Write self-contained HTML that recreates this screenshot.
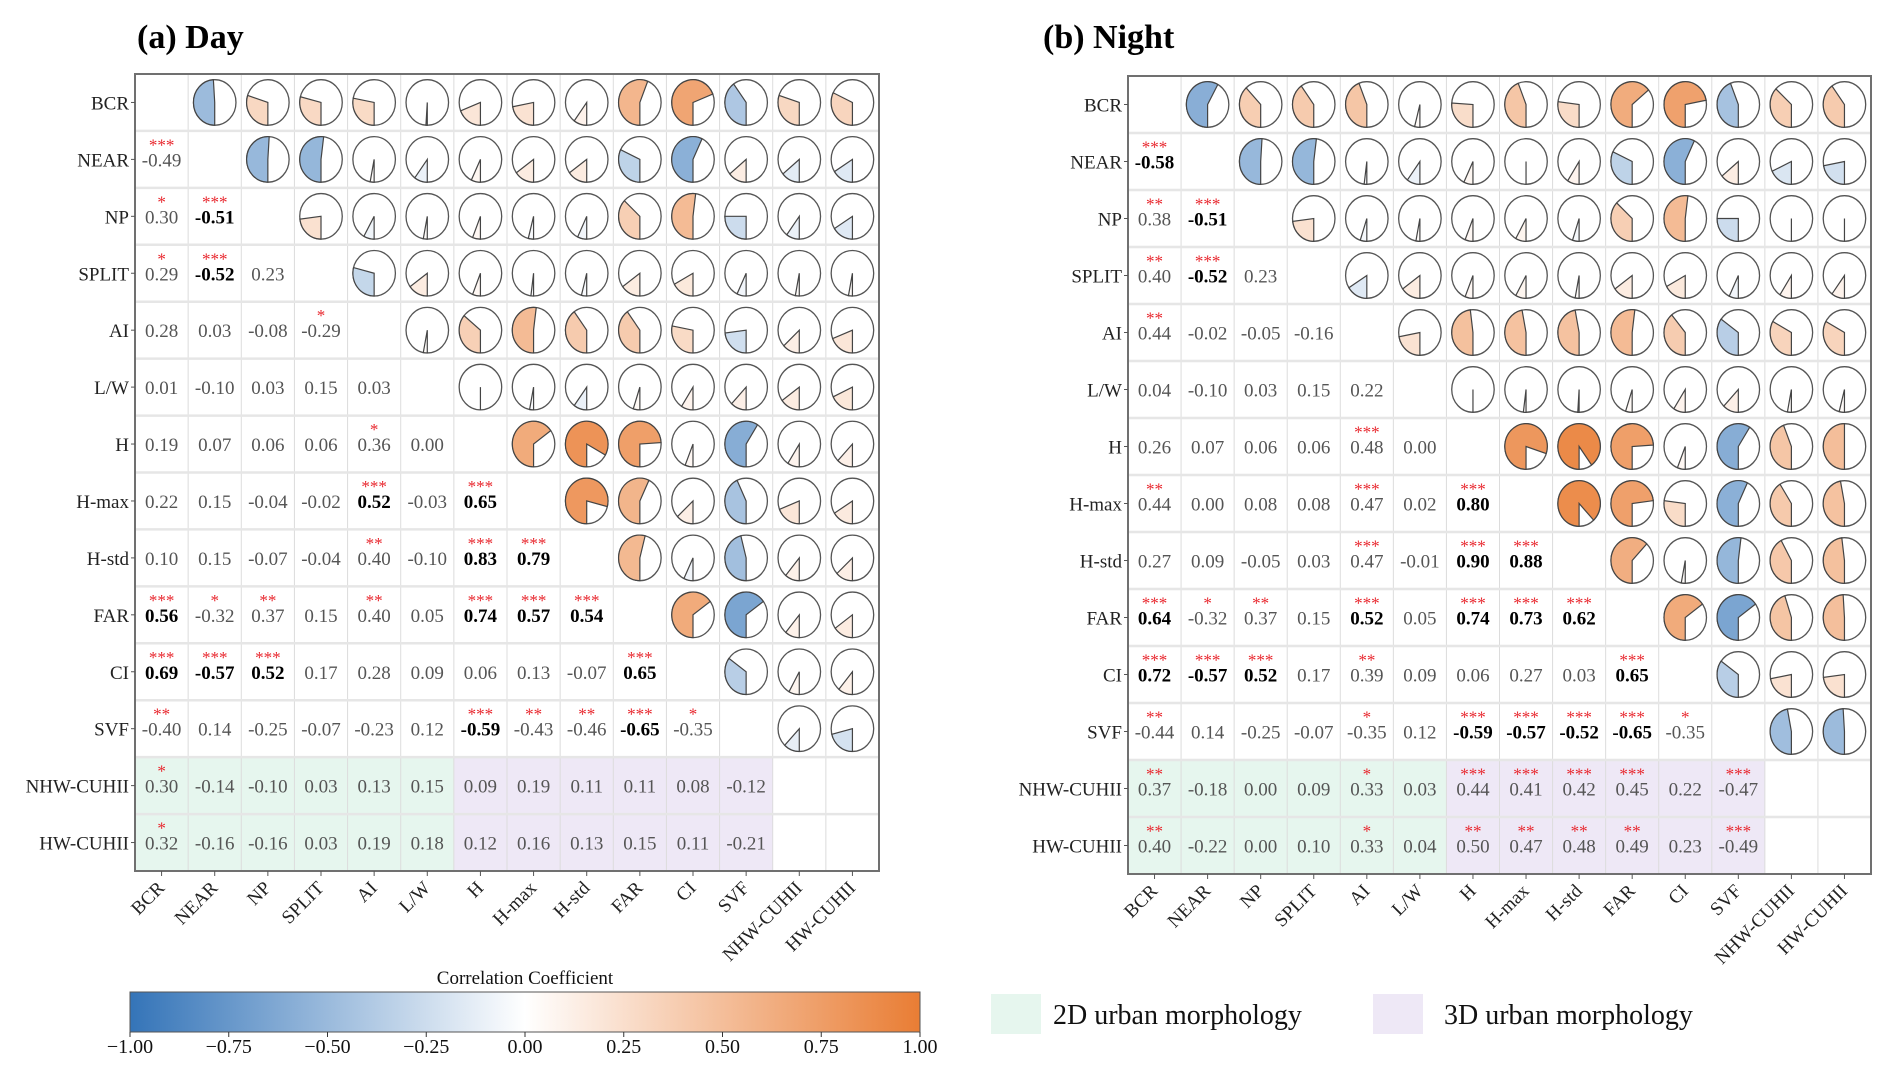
<!DOCTYPE html>
<html><head><meta charset="utf-8"><style>
html,body{margin:0;padding:0;background:#fff;}
svg{display:block;font-family:"Liberation Serif",serif;}
</style></head><body>
<svg id="fig" width="1892" height="1074" viewBox="0 0 1892 1074" xmlns="http://www.w3.org/2000/svg"></svg>
<script>
const labels = ["BCR","NEAR","NP","SPLIT","AI","L/W","H","H-max","H-std","FAR","CI","SVF","NHW-CUHII","HW-CUHII"];
const dayValues = [
 [],
 [-0.49],
 [0.30,-0.51],
 [0.29,-0.52,0.23],
 [0.28,0.03,-0.08,-0.29],
 [0.01,-0.10,0.03,0.15,0.03],
 [0.19,0.07,0.06,0.06,0.36,0.00],
 [0.22,0.15,-0.04,-0.02,0.52,-0.03,0.65],
 [0.10,0.15,-0.07,-0.04,0.40,-0.10,0.83,0.79],
 [0.56,-0.32,0.37,0.15,0.40,0.05,0.74,0.57,0.54],
 [0.69,-0.57,0.52,0.17,0.28,0.09,0.06,0.13,-0.07,0.65],
 [-0.40,0.14,-0.25,-0.07,-0.23,0.12,-0.59,-0.43,-0.46,-0.65,-0.35],
 [0.30,-0.14,-0.10,0.03,0.13,0.15,0.09,0.19,0.11,0.11,0.08,-0.12],
 [0.32,-0.16,-0.16,0.03,0.19,0.18,0.12,0.16,0.13,0.15,0.11,-0.21]
];
const dayStars = [
 [],
 ["***"],
 ["*","***"],
 ["*","***",""],
 ["","","","*"],
 ["","","","",""],
 ["","","","","*",""],
 ["","","","","***","","***"],
 ["","","","","**","","***","***"],
 ["***","*","**","","**","","***","***","***"],
 ["***","***","***","","","","","","","***"],
 ["**","","","","","","***","**","**","***","*"],
 ["*","","","","","","","","","","",""],
 ["*","","","","","","","","","","",""]
];
const nightValues = [
 [],
 [-0.58],
 [0.38,-0.51],
 [0.40,-0.52,0.23],
 [0.44,-0.02,-0.05,-0.16],
 [0.04,-0.10,0.03,0.15,0.22],
 [0.26,0.07,0.06,0.06,0.48,0.00],
 [0.44,0.00,0.08,0.08,0.47,0.02,0.80],
 [0.27,0.09,-0.05,0.03,0.47,-0.01,0.90,0.88],
 [0.64,-0.32,0.37,0.15,0.52,0.05,0.74,0.73,0.62],
 [0.72,-0.57,0.52,0.17,0.39,0.09,0.06,0.27,0.03,0.65],
 [-0.44,0.14,-0.25,-0.07,-0.35,0.12,-0.59,-0.57,-0.52,-0.65,-0.35],
 [0.37,-0.18,0.00,0.09,0.33,0.03,0.44,0.41,0.42,0.45,0.22,-0.47],
 [0.40,-0.22,0.00,0.10,0.33,0.04,0.50,0.47,0.48,0.49,0.23,-0.49]
];
const nightStars = [
 [],
 ["***"],
 ["**","***"],
 ["**","***",""],
 ["**","","",""],
 ["","","","",""],
 ["","","","","***",""],
 ["**","","","","***","","***"],
 ["","","","","***","","***","***"],
 ["***","*","**","","***","","***","***","***"],
 ["***","***","***","","**","","","","","***"],
 ["**","","","","*","","***","***","***","***","*"],
 ["**","","","","*","","***","***","***","***","","***"],
 ["**","","","","*","","**","**","**","**","","***"]
];
const cbTicks = [-1,-0.75,-0.5,-0.25,0,0.25,0.5,0.75,1];

const NS="http://www.w3.org/2000/svg";
const svg=document.getElementById('fig');
function mk(tag,attrs,parent){const e=document.createElementNS(NS,tag);for(const k in attrs)e.setAttribute(k,attrs[k]);(parent||svg).appendChild(e);return e;}
function color(r){
  const t=Math.min(1,Math.abs(r));
  const c=r<0?[52,116,184]:[233,125,52];
  const m=c.map(v=>Math.round(255+(v-255)*t));
  return `rgb(${m[0]},${m[1]},${m[2]})`;
}
function fmt(v){return v.toFixed(2);}

function drawPanel(name,x0,y0,W,H,title,titleX,values,stars){
  const n=labels.length, cw=W/n, ch=H/n;
  const g=mk('g',{});
  
  
  const xs=j=>x0+cw*j, ys=i=>y0+ch*i;
  const t=mk('text',{x:titleX,y:48,'font-size':34,'font-weight':'bold',fill:'#000'},g);
  t.textContent=title;
  
  
  for(let i=12;i<14;i++)for(let j=0;j<12;j++){
    const r=mk('rect',{x:xs(j),y:ys(i),width:cw,height:ch,fill:j<6?'#e6f6ee':'#eee8f6'},g);
    
    
  }
  for(let j=1;j<n;j++) mk('line',{x1:xs(j),x2:xs(j),y1:y0,y2:y0+H,stroke:'#dcdcdc','stroke-width':1},g);
  for(let i=1;i<n;i++) mk('line',{x1:x0,x2:x0+W,y1:ys(i),y2:ys(i),stroke:'#e6e6e6','stroke-width':2.5},g);
  const rx=cw*0.4, ry=ch*0.4;
  for(let i=0;i<n;i++){
    for(let j=0;j<n;j++){
      const cx=xs(j)+cw/2, cy=ys(i)+ch/2;
      if(j<i){
        const v=values[i][j], s=stars[i][j];
        if(v===undefined) continue;
        const hl=i>=12;
        const bold=!hl&&Math.abs(v)>=0.5;
        const tx=mk('text',{x:cx,y:cy+7,'text-anchor':'middle','font-size':19,'font-weight':bold?'bold':'normal',fill:bold?'#000':'#555'},g);
        tx.textContent=fmt(v);
        
        
        if(s){
          const st=mk('text',{x:cx,y:cy-9,'text-anchor':'middle','font-size':17,fill:'#e8242b'},g);
          st.textContent=s;
          
          
        }
      } else if(j>i && i<12){
        const v=values[j][i];
        if(v===undefined) continue;
        const a=Math.abs(v)*2*Math.PI;
        const pg=mk('g',{},g);
        
        
        mk('ellipse',{cx:cx,cy:cy,rx:rx,ry:ry,fill:'#fff',stroke:'#555','stroke-width':1.3},pg);
        const px=cx-rx*Math.sin(a), py=cy+ry*Math.cos(a);
        const large=a>Math.PI?1:0;
        let d;
        if(Math.abs(v)>=0.999) d=`M${cx},${cy+ry} A${rx},${ry} 0 1 1 ${cx},${cy-ry} A${rx},${ry} 0 1 1 ${cx},${cy+ry}Z`;
        else d=`M${cx},${cy} L${cx},${cy+ry} A${rx},${ry} 0 ${large} 1 ${px},${py} Z`;
        mk('path',{d:d,fill:color(v),stroke:'#444','stroke-width':1.2},pg);
      }
    }
  }
  mk('rect',{x:x0,y:y0,width:W,height:H,fill:'none',stroke:'#707070','stroke-width':2},g);
  for(let i=0;i<n;i++){
    const cy=ys(i)+ch/2;
    mk('line',{x1:x0-4,x2:x0,y1:cy,y2:cy,stroke:'#555'},g);
    const l=mk('text',{x:x0-6,y:cy+7,'text-anchor':'end','font-size':19,fill:'#222'},g);
    l.textContent=labels[i];
    
    
    const cx=xs(i)+cw/2;
    mk('line',{x1:cx,x2:cx,y1:y0+H,y2:y0+H+5,stroke:'#555'},g);
    const xl=mk('text',{x:cx+4,y:y0+H+18,'text-anchor':'end','font-size':19,fill:'#222',transform:`rotate(-45 ${cx+4} ${y0+H+18})`},g);
    xl.textContent=labels[i];
    
    
  }
}
drawPanel('day-panel',135,74,744,797,'(a) Day',137,dayValues,dayStars);
drawPanel('night-panel',1128,76,743,798,'(b) Night',1043,nightValues,nightStars);

const cbx0=130,cbx1=920,cby0=992,cby1=1032;
const defs=mk('defs',{});
const lg=mk('linearGradient',{id:'cbg',x1:0,x2:1,y1:0,y2:0},defs);
[-1,-0.5,0,0.5,1].forEach(v=>mk('stop',{offset:(v+1)/2,'stop-color':color(v)},lg));
const cb=mk('rect',{x:cbx0,y:cby0,width:cbx1-cbx0,height:cby1-cby0,fill:'url(#cbg)',stroke:'#555','stroke-width':1});


const cbt=mk('text',{x:(cbx0+cbx1)/2,y:984,'text-anchor':'middle','font-size':19,fill:'#111'});
cbt.textContent='Correlation Coefficient';


const cbX=v=>cbx0+(v+1)/2*(cbx1-cbx0);
cbTicks.forEach(v=>{
  mk('line',{x1:cbX(v),x2:cbX(v),y1:cby1,y2:cby1+5,stroke:'#333'});
  const tl=mk('text',{x:cbX(v),y:1053,'text-anchor':'middle','font-size':20,fill:'#111'});
  tl.textContent=(v<0?'\u2212':'')+Math.abs(v).toFixed(2);
  
  
});
const l1=mk('rect',{x:991,y:994,width:50,height:40,fill:'#e6f6ee'});


const lt1=mk('text',{x:1053,y:1024,'font-size':28,fill:'#111'});
lt1.textContent='2D urban morphology';


const l2=mk('rect',{x:1373,y:994,width:50,height:40,fill:'#eee8f6'});


const lt2=mk('text',{x:1444,y:1024,'font-size':28,fill:'#111'});
lt2.textContent='3D urban morphology';


</script>
</body></html>
